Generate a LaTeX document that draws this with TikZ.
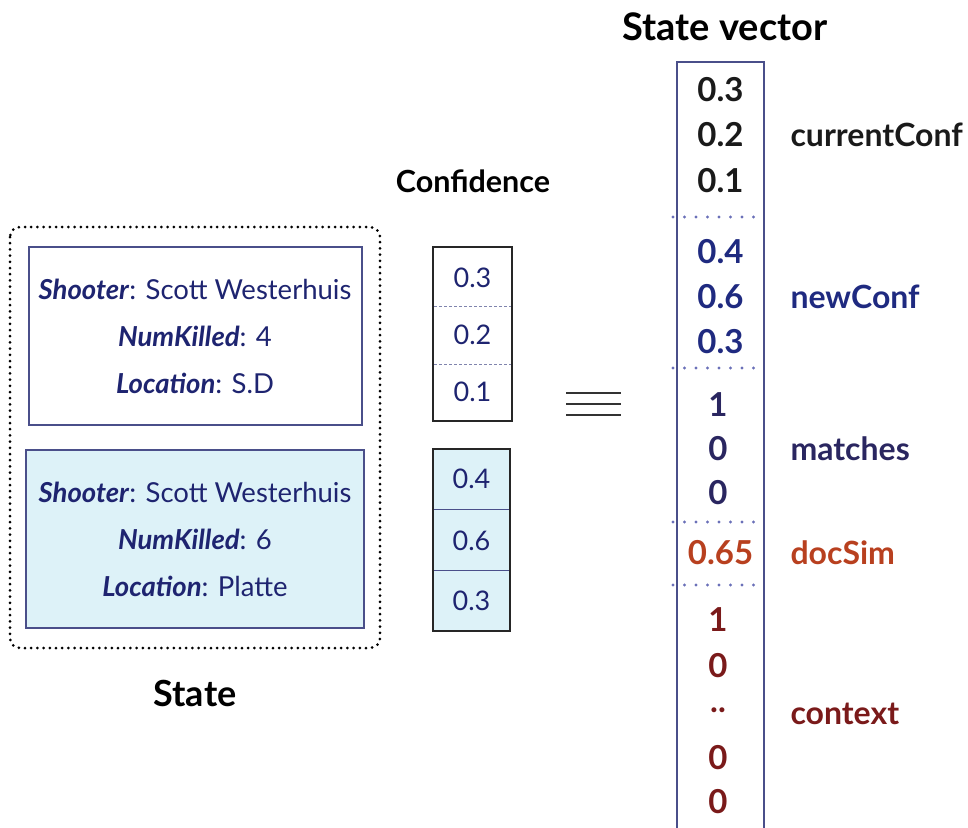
\documentclass[tikz,border=0pt]{standalone}
\usepackage{fontspec}
\setmainfont{Lato}
\usetikzlibrary{positioning}
\definecolor{ink}{HTML}{1E2470}
\definecolor{frame}{HTML}{4A4F8A}
\definecolor{cyanfill}{HTML}{DDF2F8}
\definecolor{cur}{HTML}{1A1A1A}
\definecolor{newc}{HTML}{1F2A80}
\definecolor{match}{HTML}{2A2660}
\definecolor{sim}{HTML}{B8401F}
\definecolor{ctx}{HTML}{7A1A1A}
\definecolor{divdot}{HTML}{6A70B8}
\tikzset{
  fieldtxt/.style={text=ink, font=\fontsize{27.5}{31}\selectfont, anchor=center},
  conftxt/.style={text=ink, font=\fontsize{27}{31}\selectfont},
  vectxt/.style={font=\fontsize{33}{37}\selectfont\bfseries},
  sidetxt/.style={font=\fontsize{32}{36}\selectfont\bfseries, anchor=west},
  titletxt/.style={text=black, font=\fontsize{36}{40}\selectfont\bfseries},
  recbox/.style={draw=frame, line width=1.4pt},
  divline/.style={draw=divdot, line width=3.2pt, dash pattern=on 0pt off 11.5pt, line cap=round},
}
\newcommand{\fld}[2]{\textbf{\textit{#1}}: #2}
\begin{document}
\begin{tikzpicture}[x=1pt,y=-1pt]
\useasboundingbox (0,0) rectangle (968,827);

% state: two records inside a dotted frame
\draw[black, line width=3pt, dash pattern=on 0pt off 6.2pt, line cap=round, rounded corners=10pt]
  (10,227) rectangle (380,648);
\draw[recbox, fill=white] (29,247) rectangle (362,425);
\draw[recbox, fill=cyanfill] (26,450) rectangle (364,628);
\node[fieldtxt] (s1) at (195,289) {\fld{Shooter}{Scott Westerhuis}};
\node[fieldtxt] (n1) at (195,336) {\fld{NumKilled}{4}};
\node[fieldtxt] (l1) at (195,383) {\fld{Location}{S.D}};
\node[fieldtxt] (s2) at (195,492) {\fld{Shooter}{Scott Westerhuis}};
\node[fieldtxt] (n2) at (195,539) {\fld{NumKilled}{6}};
\node[fieldtxt] (l2) at (195,586) {\fld{Location}{Platte}};
\node[titletxt] (state) at (195,693) {State};

% confidence columns
\node[titletxt, font=\fontsize{30.5}{34}\selectfont\bfseries] (conf) at (473,181) {Confidence};
\draw[black!85, line width=1.4pt, fill=white] (433,247) rectangle (512,421);
\draw[frame!70, line width=0.8pt, densely dashed] (434,306) -- (511,306);
\draw[frame!70, line width=0.8pt, densely dashed] (434,364) -- (511,364);
\node[conftxt] (c1) at (472.5,278) {0.3};
\node[conftxt] (c2) at (472.5,335) {0.2};
\node[conftxt] (c3) at (472.5,392) {0.1};
\draw[black!85, line width=1.4pt, fill=cyanfill] (433,449) rectangle (510,631);
\draw[frame, line width=0.8pt] (434,509) -- (509,509);
\draw[frame, line width=0.8pt] (434,570) -- (509,570);
\node[conftxt] (c4) at (471.5,479) {0.4};
\node[conftxt] (c5) at (471.5,541) {0.6};
\node[conftxt] (c6) at (471.5,601) {0.3};

% equivalence sign
\foreach \yy in {393,404,415}
  \draw[black!80, line width=2.4pt] (566,\yy) -- (621,\yy);

% state vector
\node[titletxt, font=\fontsize{38}{42}\selectfont\bfseries] (svt) at (725,27) {State vector};
\draw[frame, line width=1.6pt] (677,834) -- (677,62) -- (764,62) -- (764,834);
\foreach \yy in {217,368,522,585}
  \draw[divline] (673,\yy) -- (764,\yy);
\node[vectxt, text=cur]   (v1)  at (720.5,90)  {0.3};
\node[vectxt, text=cur]   (v2)  at (720.5,135) {0.2};
\node[vectxt, text=cur]   (v3)  at (720.5,181) {0.1};
\node[vectxt, text=newc]  (v4)  at (720.5,252) {0.4};
\node[vectxt, text=newc]  (v5)  at (720.5,297) {0.6};
\node[vectxt, text=newc]  (v6)  at (720.5,342) {0.3};
\node[vectxt, text=match] (v7)  at (718,405) {1};
\node[vectxt, text=match] (v8)  at (718,449) {0};
\node[vectxt, text=match] (v9)  at (718,493) {0};
\node[vectxt, text=sim]   (v10) at (720.5,553) {0.65};
\node[vectxt, text=ctx]   (v11) at (718,620) {1};
\node[vectxt, text=ctx]   (v12) at (718,666) {0};
\node[vectxt, text=ctx]   (v13) at (718,710) {..};
\node[vectxt, text=ctx]   (v14) at (718,758) {0};
\node[vectxt, text=ctx]   (v15) at (718,802) {0};

\node[sidetxt, text=cur]   (lc) at (787,135) {currentConf};
\node[sidetxt, text=newc]  (ln) at (787,297) {newConf};
\node[sidetxt, text=match] (lm) at (787,449) {matches};
\node[sidetxt, text=sim]   (ld) at (787,553) {docSim};
\node[sidetxt, text=ctx]   (lx) at (787,714) {context};
\end{tikzpicture}
\end{document}
